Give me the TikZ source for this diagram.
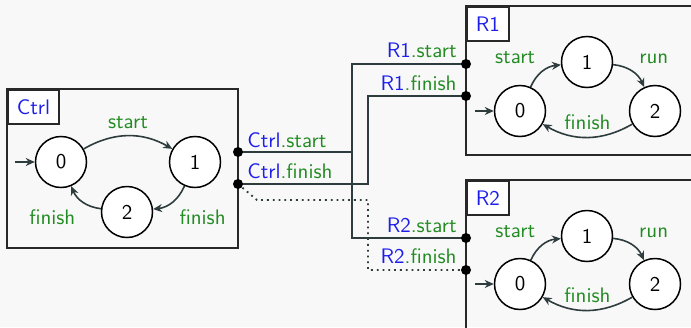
\documentclass[tikz,border=0pt]{standalone}
\usetikzlibrary{arrows.meta}
\definecolor{bgc}{RGB}{248,248,248}
\definecolor{wirec}{RGB}{46,60,62}
\definecolor{boxc}{RGB}{40,40,40}
\definecolor{namec}{RGB}{30,30,235}
\definecolor{evc}{RGB}{34,139,34}
\tikzset{
  statec/.style={circle,draw=black,fill=white,line width=0.75pt,minimum size=25.5pt,inner sep=0pt},
  compbox/.style={draw=boxc,line width=0.9pt},
  titlebox/.style={draw=boxc,fill=white,line width=0.9pt,anchor=north west,text=namec,inner xsep=4.5pt,minimum height=17pt},
  trans/.style={draw=wirec,line width=0.8pt,-{Stealth[length=4.5pt,width=4pt]}},
  ev/.style={text=evc},
  wire/.style={draw=wirec,line width=0.9pt},
  portlbl/.style={inner sep=0pt},
}
\newcommand{\port}[2]{\textcolor{namec}{#1}\textcolor{evc}{.#2}}
\begin{document}
\begin{tikzpicture}[x=.5pt,y=-.5pt,font=\sffamily\fontsize{10.5}{12.6}\selectfont]
\fill[bgc] (0,0) rectangle (691,327);
\clip (0,0) rectangle (691,327);
% Ctrl
\draw[compbox] (7,89) rectangle (238,248);
\node[titlebox] (ctrltitle) at (7,89) {Ctrl};
\node[statec] (ctrlzero) at (61,162) {0};
\node[statec] (ctrlone) at (195,162) {1};
\node[statec] (ctrltwo) at (127,212) {2};
\coordinate (ctrlin) at (15,162);
\draw[trans] (ctrlin) -- (ctrlzero);
\draw[trans] (ctrlzero) to[bend left] node[ev,above] {start} (ctrlone);
\draw[trans] (ctrlone) to[bend left] node[ev,below right] {finish} (ctrltwo);
\draw[trans] (ctrltwo) to[bend left] node[ev,below left] {finish} (ctrlzero);
% R1
\draw[compbox] (466,6) rectangle (700,155);
\node[titlebox] (ronetitle) at (466,6) {R1};
\node[statec] (onezero) at (520,111) {0};
\node[statec] (oneone) at (587,62) {1};
\node[statec] (onetwo) at (655,111) {2};
\coordinate (onein) at (475,111);
\draw[trans] (onein) -- (onezero);
\draw[trans] (onezero) to[bend left] node[ev,above left] {start} (oneone);
\draw[trans] (oneone) to[bend left] node[ev,above right] {run} (onetwo);
\draw[trans] (onetwo) to[bend left] node[ev,above] {finish} (onezero);
% R2
\draw[compbox] (466,180) rectangle (700,340);
\node[titlebox] (rtwotitle) at (466,180) {R2};
\node[statec] (twozero) at (520,284) {0};
\node[statec] (twoone) at (587,236) {1};
\node[statec] (twotwo) at (655,284) {2};
\coordinate (twoin) at (475,284);
\draw[trans] (twoin) -- (twozero);
\draw[trans] (twozero) to[bend left] node[ev,above left] {start} (twoone);
\draw[trans] (twoone) to[bend left] node[ev,above right] {run} (twotwo);
\draw[trans] (twotwo) to[bend left] node[ev,above] {finish} (twozero);
% ports
\coordinate (ctrlstart) at (238,152);
\coordinate (ctrlfinish) at (238,184);
\coordinate (ronestart) at (466,64);
\coordinate (ronefinish) at (466,96);
\coordinate (rtwostart) at (466,238);
\coordinate (rtwofinish) at (466,270);
\node[portlbl,anchor=base west] (lctrlstart) at (247,147) {\port{Ctrl}{start}};
\node[portlbl,anchor=base west] (lctrlfinish) at (247,178) {\port{Ctrl}{finish}};
\node[portlbl,anchor=base east] (lronestart) at (457,57) {\port{R1}{start}};
\node[portlbl,anchor=base east] (lronefinish) at (457,90) {\port{R1}{finish}};
\node[portlbl,anchor=base east] (lrtwostart) at (457,232) {\port{R2}{start}};
\node[portlbl,anchor=base east] (lrtwofinish) at (457,263) {\port{R2}{finish}};
% wiring
\coordinate (jstart) at (352,152);
\coordinate (jfinish) at (368,184);
\coordinate (dbend) at (257,200);
\coordinate (dcorner) at (368,200);
\draw[wire] (ctrlstart) -- (jstart) |- (ronestart);
\draw[wire] (jstart) |- (rtwostart);
\draw[wire] (ctrlfinish) -- (jfinish) |- (ronefinish);
\draw[wire,dotted] (ctrlfinish) -- (dbend) -- (dcorner) |- (rtwofinish);
\foreach \p in {ctrlstart,ctrlfinish,ronestart,ronefinish,rtwostart,rtwofinish}
  \fill (\p) circle (2.5pt);
\end{tikzpicture}
\end{document}
